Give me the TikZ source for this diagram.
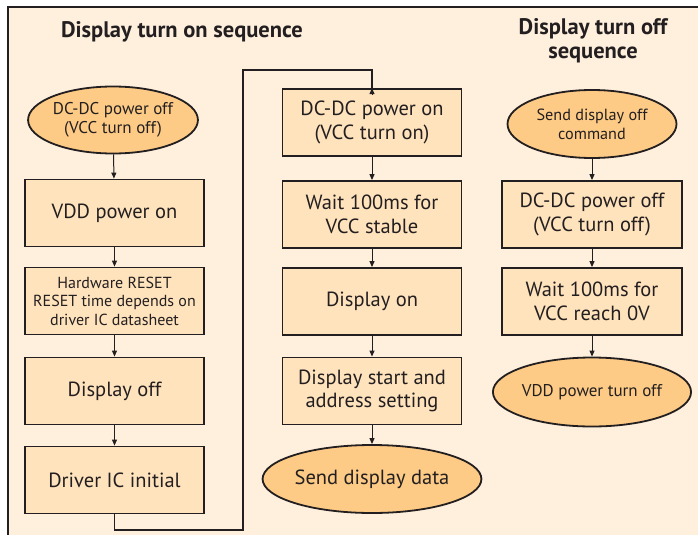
\documentclass[tikz,border=0pt]{standalone}
\usepackage{fontspec}
\setmainfont{PT Sans}
\usetikzlibrary{shapes.geometric,arrows.meta}
\definecolor{bgC}{HTML}{FFF0DE}
\definecolor{boxC}{HTML}{FFE3BD}
\definecolor{ellC}{HTML}{FDCB85}
\definecolor{lineC}{HTML}{231F20}
\tikzset{
  procbox/.style={draw=lineC, fill=boxC, line width=1.8, minimum width=179, minimum height=67,
    align=center, inner sep=0, text=lineC, font=\fontsize{20.5}{23.5}\selectfont},
  smallbox/.style={procbox, font=\fontsize{16}{18.5}\selectfont},
  term/.style={ellipse, draw=lineC, fill=ellC, line width=1.8, minimum width=169, minimum height=67,
    inner sep=0, align=center, text=lineC, font=\fontsize{17}{19.5}\selectfont},
  bigterm/.style={term, font=\fontsize{20.5}{23.5}\selectfont},
  arr/.style={draw=lineC, line width=1, -{Triangle[length=6,width=5]}},
  conn/.style={draw=lineC, line width=1.5},
  ttl/.style={font=\bfseries\fontsize{22.5}{24}\selectfont, text=lineC, align=center, inner sep=0}
}
\begin{document}
\begin{tikzpicture}[x=1pt,y=-1pt]
\useasboundingbox (0,0) rectangle (698,535);
\fill[bgC] (8,7) rectangle (698,535);
\draw[lineC, line width=1.2] (698,7) -- (8,7) -- (8,535);

\node[ttl] (t1) at (182,32) {Display turn on sequence};
\node[ttl] (t2) at (593,41) {Display turn off\\sequence};

% left column
\node[term] (e1) at (113,120) {DC-DC power off\\(VCC turn off)};
\node[procbox] (b1) at (114.5,213) {VDD power on};
\node[smallbox] (b2) at (114.5,301) {Hardware RESET\\RESET time depends on\\driver IC datasheet};
\node[procbox] (b3) at (114.5,391) {Display off};
\node[procbox] (b4) at (114.5,480) {Driver IC initial};

% middle column
\node[procbox] (m1) at (372,122.5) {DC-DC power on\\(VCC turn on)};
\node[procbox] (m2) at (372,214.5) {Wait 100ms for\\VCC stable};
\node[procbox] (m3) at (372,301.5) {Display on};
\node[procbox] (m4) at (372,391) {Display start and\\address setting};
\node[bigterm, minimum width=168, minimum height=68] (m5) at (372,479) {Send display data};

% right column
\node[term, minimum height=68, font=\fontsize{16.2}{19}\selectfont] (r1) at (592,124) {Send display off\\command};
\node[procbox, minimum width=180] (r2) at (592,214.5) {DC-DC power off\\(VCC turn off)};
\node[procbox, minimum width=180] (r3) at (592,301.5) {Wait 100ms for\\VCC reach 0V};
\node[term, minimum width=170, minimum height=69] (r4) at (592,392) {VDD power turn off};

\draw[arr] (e1) -- (b1);
\draw[arr] (b1) -- (b2);
\draw[arr] (b2) -- (b3);
\draw[arr] (b3) -- (b4);
\coordinate (c1) at (243,530);
\coordinate (c2) at (243,70);
\draw[conn] (b4.south) |- (c1) -- (c2) -| ([yshift=-6]m1.north);
\draw[arr] ([yshift=-7]m1.north) -- (m1.north);
\draw[arr] (m1) -- (m2);
\draw[arr] (m2) -- (m3);
\draw[arr] (m3) -- (m4);
\draw[arr] (m4) -- (m5);
\draw[arr] (r1) -- (r2);
\draw[arr] (r2) -- (r3);
\draw[arr] (r3) -- (r4);
\end{tikzpicture}
\end{document}
